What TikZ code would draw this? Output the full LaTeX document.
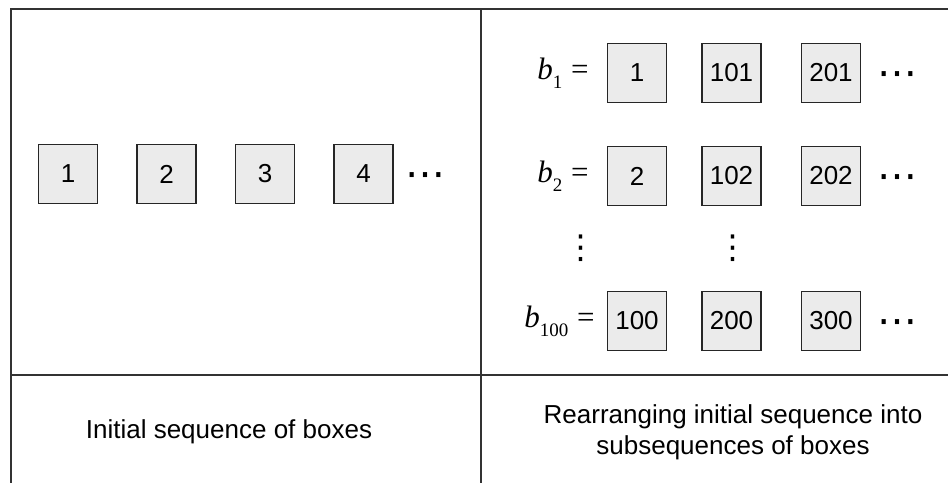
\documentclass[tikz,border=0pt]{standalone}
\usepackage{fontspec}
\setmainfont{Liberation Sans}
\newfontfamily\serifface{Liberation Serif}
\newfontfamily\symface{DejaVu Sans}
\usepackage{tikz}
\usetikzlibrary{positioning}

\newcommand{\seqname}[1]{{\itshape b}\raisebox{-0.3em}{\fontsize{19}{19}\selectfont #1}\;=}

\begin{document}
\begin{tikzpicture}[
  x=1pt, y=-1pt,
  every node/.style={font=\fontsize{26}{31}\selectfont},
  frame/.style={draw=black!80, line width=1.2pt},
  cell/.style={draw=black!85, fill=black!8, line width=1.5pt, minimum size=59pt, inner sep=0pt, font=\fontsize{26}{30}\selectfont},
  seq/.style={inner sep=0pt, font=\serifface\fontsize{31}{34}\selectfont},
  dots/.style={inner sep=0pt, yshift=-6pt, font=\symface\fontsize{40}{40}\selectfont},
  vdots/.style={inner sep=0pt, font=\symface\fontsize{33}{33}\selectfont}
]
\useasboundingbox (0,0) rectangle (948,483);
% table lines
\draw[frame] (948,9) -- (11,9) -- (11,483);
\draw[frame] (481,9) -- (481,483);
\draw[frame] (11,375) -- (948,375);

% left: initial sequence
\node[cell] (a1) at (68,174) {1};
\node[cell, right=38pt of a1] (a2) {2};
\node[cell, right=38pt of a2] (a3) {3};
\node[cell, right=38pt of a3] (a4) {4};
\node[dots, right=12pt of a4] (ad) {⋯};

% right: subsequences
\node[cell] (b11) at (637,73) {1};
\node[cell, right=34pt of b11] (b12) {101};
\node[cell, right=39pt of b12] (b13) {201};
\node[dots, right=16pt of b13] (b1d) {⋯};
\node[seq, left=18pt of b11] (b1) {\seqname{1}};

\node[cell] (b21) at (637,176) {2};
\node[cell, right=34pt of b21] (b22) {102};
\node[cell, right=39pt of b22] (b23) {202};
\node[dots, right=16pt of b23] (b2d) {⋯};
\node[seq, left=18pt of b21] (b2) {\seqname{2}};

\node[vdots] (v1) at (581,248) {⋮};
\node[vdots] (v2) at (733,248) {⋮};

\node[cell] (b31) at (637,321) {100};
\node[cell, right=34pt of b31] (b32) {200};
\node[cell, right=39pt of b32] (b33) {300};
\node[dots, right=16pt of b33] (b3d) {⋯};
\node[seq, left=12pt of b31] (b3) {\seqname{100}};

% captions
\node (capl) at (229,432) {Initial sequence of boxes};
\node[align=center] (capr) at (733,432) {Rearranging initial sequence into\\subsequences of boxes};
\end{tikzpicture}
\end{document}
